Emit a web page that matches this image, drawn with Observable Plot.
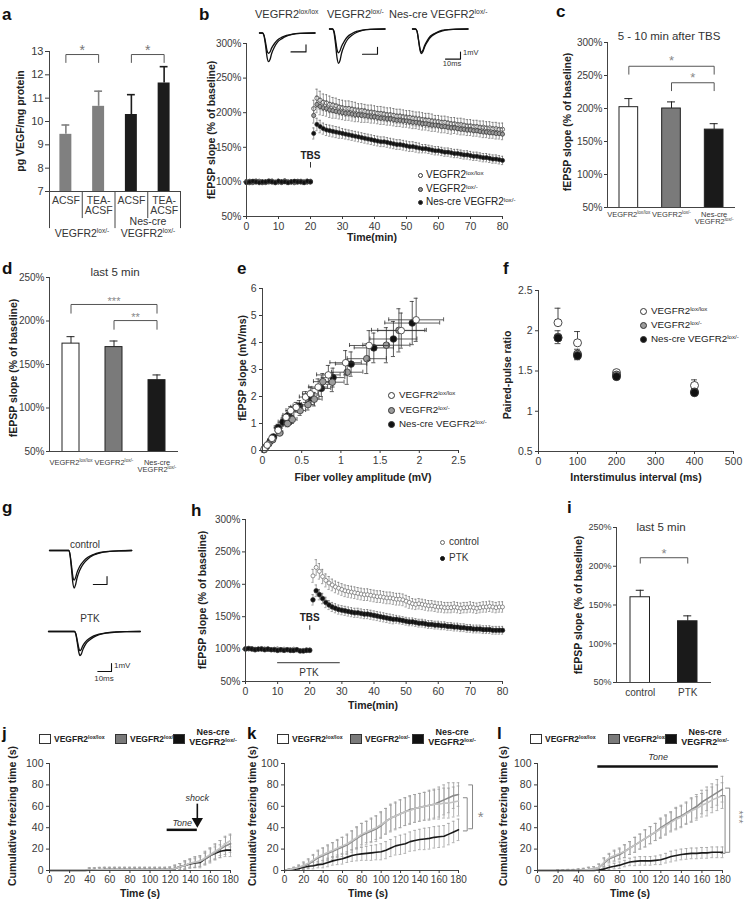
<!DOCTYPE html>
<html>
<head>
<meta charset="utf-8">
<script src="https://cdn.jsdelivr.net/npm/d3@7"></script>
<script src="https://cdn.jsdelivr.net/npm/@observablehq/plot@0.6"></script>
<style>
  html, body { margin: 0; padding: 0; background: #fff; }
  #fig { position: relative; width: 744px; height: 900px; overflow: hidden; font-family: 'Liberation Sans', Arial, Helvetica, sans-serif; color: #222; }
  .t { position: absolute; white-space: nowrap; line-height: 1; }
  .t sup { font-size: 0.62em; vertical-align: 0; position: relative; top: -0.55em; }
</style>
</head>
<body>
<div id="fig"></div>
<script>
// ======================= DATA =======================
// --- a
const aConditions = ["ACSF", "TEA-\nACSF", "ACSF", "TEA-\nACSF"];
const aGenotypes = ["VEGFR2^lox/-", "Nes-cre\nVEGFR2^lox/-"];
const aValues = [9.45, 10.65, 10.3, 11.65];
const aErrors = [0.4, 0.65, 0.85, 0.7];
const aColors = ["#808080", "#808080", "#1c1c1c", "#1c1c1c"];
const aTicks = [7, 8, 9, 10, 11, 12, 13];
const aSig = [{from: 0, to: 1, y: 12.87, label: "*"}, {from: 2, to: 3, y: 12.87, label: "*"}];
const aTable = {condBottom: 5.84, groupBottom: 5.41};

// --- shared labels / styles
const genotypes = ["VEGFR2^lox/lox", "VEGFR2^lox/-", "Nes-cre VEGFR2^lox/-"];
const barGenotypeLabels = ["VEGFR2^lox/lox", "VEGFR2^lox/-", "Nes-cre\nVEGFR2^lox/-"];
const dotFills = ["#ffffff", "#9c9c9c", "#111111"];
const barFills = ["#ffffff", "#7a7a7a", "#1a1a1a"];
const pctTicks300 = [50, 100, 150, 200, 250, 300];
const pctTicks250 = [50, 100, 150, 200, 250];
const minuteTicks = [0, 10, 20, 30, 40, 50, 60, 70, 80];

// --- b (LTP time course)
const minutes = [0,1,2,3,4,5,6,7,8,9,10,11,12,13,14,15,16,17,18,19,20,21,22,23,24,25,26,27,28,29,30,31,32,33,34,35,36,37,38,39,40,41,42,43,44,45,46,47,48,49,50,51,52,53,54,55,56,57,58,59,60,61,62,63,64,65,66,67,68,69,70,71,72,73,74,75,76,77,78,79,80];
const bLoxLox = [100,101,99,100,101,100,99,100,101,100,100,99,101,100,100,99,100,101,100,100,101,
  206,221,218,215,214,212,211,210,208,207, 206,206,205,204,203,203,202,201,201,200,
  199,199,198,197,197,196,195,195,194,193, 193,192,191,191,190,189,189,188,187,187,
  186,186,185,184,184,183,183,182,181,181, 180,180,179,179,178,178,177,177,176,176];
const bLoxLoxErr = [3,2,3,3,2,3,2,3,3,2,3,2,3,3,2,3,3,2,3,3,2,
  12,13,13,12,12,12,11,11,11,11, 11,11,11,11,10,10,10,10,10,10,
  10,10,10,10,10,10,10,10,10,10, 10,10,10,10,10,10,10,10,9,9,
  9,9,9,9,9,9,9,9,9,9, 9,9,9,9,9,9,9,9,9,9];
const bLoxMinus = [100,99,100,101,100,99,100,101,100,99,100,100,101,99,100,100,101,100,99,100,100,
  196,212,209,207,206,204,203,202,201,200, 199,199,198,197,197,196,196,195,194,194,
  193,192,192,191,191,190,189,189,188,188, 187,186,186,185,184,184,183,182,182,181,
  180,180,179,178,178,177,176,176,175,175, 174,174,173,172,172,171,171,170,170,169];
const bLoxMinusErr = [3,3,2,3,2,3,3,2,3,3,2,3,3,2,3,3,2,3,3,2,3,
  11,12,12,11,11,11,11,10,10,10, 10,10,10,10,10,10,10,9,9,9,
  9,9,9,9,9,9,9,9,9,9, 9,9,9,9,9,9,9,9,9,9,
  9,9,9,9,8,8,8,8,8,8, 8,8,8,8,8,8,8,8,8,8];
const bNesCre = [99,100,101,100,99,100,100,101,100,99,101,100,100,99,100,101,100,100,99,101,100,
  170,183,180,177,175,174,173,172,171,170, 169,168,167,166,165,164,163,162,161,160,
  159,158,158,157,156,155,154,154,153,152, 151,151,150,149,148,148,147,146,145,145,
  144,143,143,142,141,141,140,139,139,138, 137,137,136,135,135,134,133,133,132,131];
const bNesCreErr = [2,3,2,2,3,2,2,3,2,2,3,2,2,3,2,2,3,2,2,3,2,
  8,9,9,8,8,8,8,8,8,7, 7,7,7,7,7,7,7,7,7,7,
  7,7,7,7,7,7,7,7,7,7, 7,7,7,7,6,6,6,6,6,6,
  6,6,6,6,6,6,6,6,6,6, 6,6,6,6,6,6,6,6,6,6];
const bTbs = {t: 20, y: 137, tick: [120, 128], label: "TBS"};

// --- b insets (example fEPSP traces, ms / mV)
const bTraceMs = [0, 2, 3, 4, 5, 6, 7, 8, 10, 12, 15, 18, 22, 27, 37];
const bTraceLoxLoxBase = [0, 0, -0.3, -1.3, -2.5, -2.9, -2.7, -2.2, -1.5, -1.0, -0.6, -0.35, -0.15, -0.05, 0];
const bTraceLoxLoxPost = [0, 0, -0.4, -1.7, -3.4, -4.1, -3.8, -3.0, -2.0, -1.3, -0.8, -0.45, -0.2, -0.06, 0];
const bTraceLoxMinusBase = [0, 0, -0.3, -1.5, -2.9, -3.4, -3.1, -2.5, -1.7, -1.1, -0.65, -0.35, -0.15, -0.05, 0];
const bTraceLoxMinusPost = [0, 0, -0.5, -2.1, -4.1, -4.9, -4.5, -3.5, -2.3, -1.5, -0.9, -0.5, -0.2, -0.06, 0];
const bTraceNesBase = [0, 0, -0.3, -1.5, -2.8, -3.3, -3.0, -2.4, -1.6, -1.0, -0.6, -0.3, -0.12, -0.04, 0];
const bTraceNesPost = [0, 0, -0.3, -1.6, -3.0, -3.5, -3.2, -2.6, -1.8, -1.2, -0.7, -0.4, -0.15, -0.05, 0];
const bScaleBars = [[21, -2.7], [22, -3.6], [22, -4.3]];

// --- c
const cValues = [202, 200, 168];
const cErrors = [13, 10, 9];
const cSig = [{from: 0, to: 2, y: 264, label: "*"}, {from: 1, to: 2, y: 239, label: "*"}];

// --- d
const dValues = [174, 170, 132];
const dErrors = [8, 7, 6];
const dSig = [{from: 0, to: 2, y: 219, label: "***"}, {from: 1, to: 2, y: 200.5, label: "**"}];

// --- e (input-output)
const eTicksX = [0, 0.5, 1, 1.5, 2, 2.5];
const eTicksY = [0, 1, 2, 3, 4, 5, 6];
const eLoxLoxX = [0.02, 0.06, 0.12, 0.2, 0.3, 0.36, 0.43, 0.55, 0.61, 0.71, 0.84, 1.06, 1.36, 1.77, 1.96];
const eLoxLoxY = [0.05, 0.2, 0.45, 0.75, 1.23, 1.48, 1.6, 1.98, 2.1, 2.35, 2.8, 3.25, 3.89, 4.44, 4.84];
const eLoxMinusX = [0.03, 0.08, 0.13, 0.22, 0.32, 0.38, 0.48, 0.58, 0.66, 0.77, 0.89, 1.08, 1.33, 1.58, 1.74];
const eLoxMinusY = [0.08, 0.25, 0.4, 0.65, 1.0, 1.15, 1.48, 1.7, 1.9, 2.55, 2.53, 2.9, 3.4, 3.9, 4.45];
const eNesX = [0.02, 0.05, 0.1, 0.14, 0.2, 0.26, 0.33, 0.47, 0.62, 0.75, 0.9, 1.13, 1.42, 1.67, 1.91];
const eNesY = [0.03, 0.15, 0.35, 0.5, 0.85, 1.05, 1.3, 1.65, 1.95, 2.3, 2.7, 3.2, 3.8, 4.13, 4.72];
const eErrX = [0.01, 0.02, 0.03, 0.04, 0.05, 0.06, 0.07, 0.08, 0.1, 0.12, 0.15, 0.2, 0.25, 0.3, 0.35];
const eErrY = [0.02, 0.05, 0.08, 0.1, 0.12, 0.15, 0.18, 0.2, 0.25, 0.3, 0.35, 0.45, 0.55, 0.65, 0.8];

// --- f (paired-pulse)
const fIntervals = [50, 100, 200, 400];
const fTicksX = [0, 100, 200, 300, 400, 500];
const fTicksY = [0.5, 1, 1.5, 2, 2.5];
const fLoxLox = [2.10, 1.85, 1.48, 1.32];
const fLoxLoxErr = [0.18, 0.14, 0.02, 0.07];
const fLoxMinus = [1.92, 1.71, 1.45, 1.24];
const fLoxMinusErr = [0.08, 0.06, 0.03, 0.04];
const fNes = [1.91, 1.69, 1.43, 1.23];
const fNesErr = [0.07, 0.05, 0.03, 0.03];

// --- g traces
const gControlMs = [0, 14, 15, 16, 17, 18, 19, 20, 22, 25, 28, 32, 37, 44, 52, 60];
const gControlBase = [0, 0, -0.5, -1.8, -3.2, -3.7, -3.4, -2.8, -2.0, -1.3, -0.85, -0.5, -0.25, -0.1, -0.03, 0];
const gControlPost = [0, 0, -0.6, -2.2, -4.0, -4.7, -4.3, -3.5, -2.5, -1.6, -1.05, -0.6, -0.3, -0.12, -0.04, 0];
const gPtkMs = [0, 19, 20, 21, 22, 23, 24, 25, 27, 30, 33, 37, 42, 49, 57, 67];
const gPtkBase = [0, 0, -0.3, -1.1, -2.0, -2.4, -2.2, -1.8, -1.3, -0.85, -0.55, -0.32, -0.16, -0.06, -0.02, 0];
const gPtkPost = [0, 0, -0.4, -1.4, -2.5, -3.0, -2.8, -2.3, -1.6, -1.05, -0.7, -0.4, -0.2, -0.08, -0.02, 0];
const gScaleBars = [[32, -4.25], [36, -5]];

// --- h (PTK)
const hLabels = ["control", "PTK"];
const hControl = [101,100,101,100,100,101,100,100,99,100,100,99,100,99,99,100,99,98,98,99,99,
  213,226,220,212,206,202,199,196,194,192, 190,189,188,187,186,185,184,184,183,182,
  181,181,180,179,179,178,177,177,176,174, 172,170,169,170,169,168,167,167,166,165,
  165,164,164,164,165,164,163,164,164,165, 164,163,164,165,165,166,165,164,165,165];
const hControlErr = [2,2,3,2,2,2,3,2,2,2,3,2,2,2,3,2,2,2,3,2,2,
  10,12,12,11,10,10,9,9,9,9, 9,9,9,9,9,9,9,9,9,9,
  9,9,9,9,9,9,9,9,9,9, 9,8,8,8,8,8,8,8,8,8,
  8,8,8,8,8,8,8,8,8,8, 8,8,8,8,8,8,8,8,8,8];
const hPtk = [100,101,100,99,100,100,99,100,99,99,98,99,98,99,98,98,99,97,97,98,98,
  176,190,184,178,172,168,165,163,161,160, 159,158,157,156,156,155,154,154,153,152,
  151,150,149,148,147,146,146,145,144,143, 142,142,141,140,140,139,138,138,137,137,
  136,136,135,135,134,134,133,133,132,132, 131,131,131,130,130,130,129,129,129,129];
const hPtkErr = [2,2,2,3,2,2,2,3,2,2,2,3,2,2,2,3,2,2,2,3,2,
  8,9,8,8,8,7,7,7,7,7, 7,7,7,7,7,7,7,7,7,7,
  7,7,7,7,7,7,6,6,6,6, 6,6,6,6,6,6,6,6,6,6,
  6,6,6,6,6,6,6,6,6,6, 6,6,6,6,6,6,6,6,6,6];
const hTbs = {t: 20, y: 149, tick: [129, 136], label: "TBS"};
const hPtkBar = {from: 10, to: 29.5, y: 79, labelY: 64, label: "PTK"};

// --- i
const iValues = [160, 129];
const iErrors = [9, 7];
const iSig = [{from: 0, to: 1, y: 211, label: "*"}];

// --- j, k, l (fear conditioning)
const seconds = [0,5,10,15,20,25,30,35,40,45,50,55,60,65,70,75,80,85,90,95,100,105,110,115,120,125,130,135,140,145,150,155,160,165,170,175,180];
const secondTicks = [0, 20, 40, 60, 80, 100, 120, 140, 160, 180];
const freezeTicks = [0, 20, 40, 60, 80, 100];
const lineColors = ["#c4c4c4", "#8a8a8a", "#1a1a1a"];
const boxFills = ["#ffffff", "#7a7a7a", "#111111"];

const jLoxLox = [0,0,0,0,0,0,0,0,0.5,0.5,1,1,1,1,1,1,1,1,1,1,1,1,1,1,1.2,2,3.5,5,7,8,9,12,15,18,21,25,28];
const jLoxLoxErr = [0,0,0,0,0,0,0,0,2,2,2,2,2,2,2,2,2,2,2,2,2,2,2,2,2,3,3,4,4,5,5,6,6,7,7,7,6];
const jLoxMinus = [0,0,0,0,0,0,0,0,0.5,0.5,0.8,1,1,1,1,1,1,1,1,1,1,1,1,1,1.2,2,3.5,5,6.5,7.5,8.5,11,14,17,20,23,25];
const jLoxMinusErr = [0,0,0,0,0,0,0,0,2,2,2,2,2,2,2,2,2,2,2,2,2,2,2,2,2,3,3,4,4,5,5,6,7,7,8,8,8];
const jNes = [0,0,0,0,0,0,0,0,0.3,0.5,0.5,0.8,0.8,0.8,0.8,0.8,0.8,0.8,0.8,0.8,0.8,0.8,0.8,0.8,1,2,3.5,5,6,7,7.5,11,14,16,18,19,19];
const jNesErr = [0,0,0,0,0,0,0,0,1.5,1.5,1.5,1.5,1.5,1.5,1.5,1.5,1.5,1.5,1.5,1.5,1.5,1.5,1.5,1.5,2,2,3,3,4,4,5,5,6,6,6,6,6];
const jTone = {from: 117, to: 147, y: 38, labelY: 44, label: "Tone"};
const jShock = {t: 147, from: 62, to: 48, head: 46, labelY: 68, label: "shock"};

const kLoxLox = [0,1,2,3,5,7,10,13,15,17,19,21,23,25,28,31,34,36,38,40,43,46,49,51,53,55,56,58,59,60,61,62,62,63,63,64,65];
const kLoxLoxErr = [0,0.5,1,2,3,4,5,6,6,7,7,8,8,9,9,10,10,10,11,11,12,12,12,12,13,13,13,13,13,13,13,13,14,14,14,14,14];
const kLoxMinus = [0,1,2,3,4,6,9,12,14,16,18,20,22,24,27,30,33,35,37,39,42,46,49,51,53,55,57,58,59,60,61,62,64,66,68,70,71];
const kLoxMinusErr = [0,0.5,1,2,3,4,5,6,7,7,8,8,9,9,10,10,11,11,11,12,12,12,13,13,13,13,13,13,13,13,14,14,14,14,14,12,11];
const kNes = [0,0.5,1,2,3,4,4.5,5.5,6,7.5,9,10,11,12.5,14,15,15.5,16,16.5,17,17.5,19,21,23,24,25,27,28,29,29.5,30,31,31.5,32,34,36,38];
const kNesErr = [0,0.5,1,1.5,2,2.5,3,3,3.5,4,4,4.5,5,5,5.5,6,6,6.5,7,7,7.5,8,8,8.5,9,9,9,9.5,9.5,10,10,10,10,10,10,10,10];
const kSig = [{x: 194.5, y1: 80, y2: 39}, {x: 189, y1: 68, y2: 37}];
const kStar = {x: 203, y: 53, label: "*"};

const lLoxLox = [0,0,0,0,0,0,0,0,0,0.5,1,1.5,3,8,12,14,16,18,21,24,27,30,33,36,39,42,45,48,50,53,56,58,61,63,66,68,70];
const lLoxLoxErr = [0,0,0,0,0.5,0.5,1,1,1.5,1.5,2,2,3,4,4,5,5,6,6,7,7,8,8,8,9,9,9,10,10,10,11,11,11,12,12,12,12];
const lLoxMinus = [0,0,0,0,0,0,0,0,0,0.5,1,1.5,3,7,11,13,15,18,21,24,27,30,33,36,40,43,46,49,51,54,57,60,64,67,70,73,76];
const lLoxMinusErr = [0,0,0,0,0.5,0.5,1,1,1.5,1.5,2,2,3,4,4,5,5,6,6,7,7,8,8,8,9,9,9,10,10,10,11,11,11,11,11,12,12];
const lNes = [0,0,0,0,0,0,0,0,0,0,0,0,0.5,1.5,3,4,5,6.5,8,8.5,9,9,9,9.5,10,11.5,13,14,15,15.5,16,16,16.5,16.5,17,17,17];
const lNesErr = [0,0,0,0,0.5,0.5,0.5,0.5,0.5,0.5,1,1,1,2,2,2.5,3,3,3.5,4,4,4,4,4,4.5,4.5,5,5,5,5,5,5,5,5,5,5,5];
const lTone = {from: 58.7, to: 176, y: 97.2, labelY: 105.6, label: "Tone"};
const lSig = [{x: 187, y1: 77, y2: 17}, {x: 182.5, y1: 70, y2: 16}];
const lStar = {x: 196, y: 50, label: "***"};

// ======================= HELPERS =======================
const FONT = "'Liberation Sans', Arial, Helvetica, sans-serif";
const fig = document.getElementById("fig");
const AX = "#444";
const num = d => String(d);

function sup(s) { return s.replace(/\^([^\n]*)/g, "<sup>$1</sup>").replace(/\n/g, "<br>"); }

function supify(svg) {
  const nodes = [];
  const w = document.createTreeWalker(svg, NodeFilter.SHOW_TEXT);
  while (w.nextNode()) if (w.currentNode.nodeValue.includes("^")) nodes.push(w.currentNode);
  for (const n of nodes) {
    const [a, b] = n.nodeValue.split("^");
    const t = document.createElementNS("http://www.w3.org/2000/svg", "tspan");
    t.setAttribute("dy", "-0.7em");
    t.setAttribute("font-size", "0.62em");
    t.textContent = b;
    n.nodeValue = a;
    n.parentNode.insertBefore(t, n.nextSibling);
  }
}

function label(html, x, y, o = {}) {
  const d = document.createElement("div");
  d.className = "t";
  d.innerHTML = html;
  d.style.left = x + "px";
  d.style.top = y + "px";
  const tf = {c: "translate(-50%,-50%)", l: "translate(0,-50%)", r: "translate(-100%,-50%)", v: "translate(-50%,-50%) rotate(-90deg)"};
  d.style.transform = tf[o.mode || "c"];
  if (o.size) d.style.fontSize = o.size + "px";
  if (o.weight) d.style.fontWeight = o.weight;
  if (o.color) d.style.color = o.color;
  if (o.italic) d.style.fontStyle = "italic";
  if (o.lh) { d.style.lineHeight = o.lh; d.style.textAlign = "center"; }
  fig.appendChild(d);
  return d;
}
const letter = (s, x, y) => label(s, x, y, {mode: "l", size: 17, weight: "bold", color: "#111"});
const axTitle = (s, x, y, rot) => label(s, x, y, {mode: rot ? "v" : "c", size: 10.5, weight: "bold", color: "#222"});

function plotAt(fx0, fx1, fy0, fy1, opts, m = {}) {
  const ml = m.l ?? 34, mr = m.r ?? 12, mt = m.t ?? 14, mb = m.b ?? 24;
  const svg = Plot.plot({
    width: fx1 - fx0 + ml + mr,
    height: fy1 - fy0 + mt + mb,
    marginLeft: ml, marginRight: mr, marginTop: mt, marginBottom: mb,
    style: {background: "transparent", overflow: "visible", fontFamily: FONT, fontSize: "10px", color: "#3a3a3a"},
    ...opts
  });
  svg.style.position = "absolute";
  svg.style.left = (fx0 - ml) + "px";
  svg.style.top = (fy0 - mt) + "px";
  svg.style.maxWidth = "none";
  supify(svg);
  fig.appendChild(svg);
  return svg;
}

function circleLegend(cx, ys, d, tx, size) {
  genotypes.slice(0, ys.length).forEach((g, i) => {
    const c = document.createElement("div");
    c.style.cssText = `position:absolute;left:${cx - d / 2}px;top:${ys[i] - d / 2}px;width:${d}px;height:${d}px;border-radius:50%;box-sizing:border-box;border:1px solid #333;background:${dotFills[i]}`;
    fig.appendChild(c);
    label(sup(g), tx, ys[i], {mode: "l", size});
  });
}

function boxLegend(xs, y) {
  barGenotypeLabels.forEach((g, i) => {
    const b = document.createElement("div");
    b.style.cssText = `position:absolute;left:${xs[i]}px;top:${y - 5}px;width:12px;height:10px;box-sizing:border-box;border:1px solid #333;background:${boxFills[i]}`;
    fig.appendChild(b);
    if (i < 2) label(sup(g), xs[i] + 15, y, {mode: "l", size: 8.5, weight: "bold"});
    else label(sup(g), xs[i] + 40, y - 1, {mode: "c", size: 9, weight: "bold", lh: 1.1});
  });
}

function bracketRows(sig, leg) {
  return sig.flatMap((s, k) => [
    {x: s.from + 0.5, y: s.y - leg, k}, {x: s.from + 0.5, y: s.y, k},
    {x: s.to + 0.5, y: s.y, k}, {x: s.to + 0.5, y: s.y - leg, k}]);
}

function barPanel(o) {
  const idx = o.values.map((_, i) => i);
  const capHalf = 4 / o.step;
  plotAt(o.fx0, o.fx1, o.fy0, o.fy1, {
    x: {domain: [0, o.values.length]},
    y: {domain: o.yDomain},
    color: {type: "identity"},
    marks: [
      Plot.rectY(idx, {x1: i => i, x2: i => i + 1, y1: 0, y2: i => o.values[i], fill: i => o.fills[i], stroke: "#222", strokeWidth: 1, insetLeft: o.inset, insetRight: o.inset, clip: true}),
      Plot.ruleX(idx, {x: i => i + 0.5, y1: i => o.values[i], y2: i => o.values[i] + o.errors[i], stroke: "#222", strokeWidth: 1}),
      Plot.ruleY(idx, {y: i => o.values[i] + o.errors[i], x1: i => i + 0.5 - capHalf, x2: i => i + 0.5 + capHalf, stroke: "#222", strokeWidth: 1}),
      Plot.ruleY([o.yDomain[0]], {stroke: AX}),
      Plot.ruleX([0], {stroke: AX}),
      Plot.axisY({ticks: o.yTicks, tickFormat: d => d + "%", tickSize: 3, tickPadding: 2, fontSize: o.yFont || 10, label: null}),
      Plot.axisX({ticks: idx.map(i => i + 0.5), tickFormat: v => o.labels[Math.floor(v)], tickSize: 0, tickPadding: o.labelPad, fontSize: o.labelSize, label: null}),
      Plot.line(bracketRows(o.sig, o.leg), {x: "x", y: "y", z: "k", stroke: "#555", strokeWidth: 1}),
      Plot.text(o.sig, {x: s => (s.from + s.to) / 2 + 0.5, y: "y", text: "label", dy: o.starDy, fontSize: o.starSize, fill: "#888"})
    ]
  }, {l: 36, r: 10, t: 14, b: 30});
}

function timeSeriesMarks(series, cap, r, errStroke) {
  const marks = [];
  for (const s of series) {
    const rows = minutes.map((t, i) => ({t, v: s.values[i], e: s.errors[i]}));
    marks.push(
      Plot.ruleX(rows, {x: "t", y1: d => d.v - d.e, y2: d => d.v + d.e, stroke: errStroke, strokeWidth: 0.6}),
      Plot.ruleY(rows, {y: d => d.v + d.e, x1: d => d.t - cap, x2: d => d.t + cap, stroke: errStroke, strokeWidth: 0.6}),
      Plot.ruleY(rows, {y: d => d.v - d.e, x1: d => d.t - cap, x2: d => d.t + cap, stroke: errStroke, strokeWidth: 0.6}),
      Plot.dot(rows, {x: "t", y: "v", r: s.r || r, fill: s.fill, stroke: s.stroke || "#333", strokeWidth: 0.7})
    );
  }
  return marks;
}

function tracePlot(x0, yBase, times, curves, barStart, pxMs, pxMv) {
  const maxT = times[times.length - 1];
  const yMin = -6, yMax = 0.5;
  const rows = curves.flatMap((c, k) => times.map((t, i) => ({t, v: c[i], k})));
  const bar = [[barStart[0], barStart[1]], [barStart[0] + 10, barStart[1]], [barStart[0] + 10, barStart[1] + 1]];
  plotAt(x0, x0 + maxT * pxMs, yBase - yMax * pxMv, yBase - yMin * pxMv, {
    x: {domain: [0, maxT], axis: null},
    y: {domain: [yMin, yMax], axis: null},
    marks: [
      Plot.line(rows, {x: "t", y: "v", z: "k", curve: "monotone-x", stroke: "#111", strokeWidth: 1.3}),
      Plot.line(bar, {x: d => d[0], y: d => d[1], stroke: "#111", strokeWidth: 1.1})
    ]
  }, {l: 2, r: 30, t: 2, b: 4});
}

function freezingPanel(fx0, fx1, series, extra) {
  const marks = [];
  for (const s of series) {
    const rows = seconds.map((t, i) => ({t, v: s.values[i], e: s.errors[i]})).filter(d => d.e > 0);
    marks.push(
      Plot.ruleX(rows, {x: "t", y1: d => Math.max(0, d.v - d.e), y2: d => d.v + d.e, stroke: "#a0a0a0", strokeWidth: 0.8}),
      Plot.ruleY(rows, {y: d => d.v + d.e, x1: d => d.t - 1.4, x2: d => d.t + 1.4, stroke: "#a0a0a0", strokeWidth: 0.8}),
      Plot.ruleY(rows.filter(d => d.v - d.e > 0), {y: d => d.v - d.e, x1: d => d.t - 1.4, x2: d => d.t + 1.4, stroke: "#a0a0a0", strokeWidth: 0.8})
    );
  }
  for (const s of series) {
    marks.push(Plot.line(seconds.map((t, i) => ({t, v: s.values[i]})), {x: "t", y: "v", stroke: s.color, strokeWidth: 1.6}));
  }
  plotAt(fx0, fx1, 763, 870, {
    x: {domain: [0, 180]},
    y: {domain: [0, 100]},
    marks: [
      ...marks,
      Plot.ruleX([0], {stroke: AX}),
      Plot.ruleY([0], {stroke: AX}),
      Plot.axisY({ticks: freezeTicks, tickSize: 3, tickPadding: 3, fontSize: 10.5, label: null}),
      Plot.axisX({ticks: secondTicks, tickSize: 3, tickPadding: 2, fontSize: 10, label: null}),
      ...extra
    ]
  }, {l: 34, r: 30, t: 10, b: 22});
}

// ======================= PANEL a =======================
{
  const idx = aValues.map((_, i) => i);
  plotAt(49, 180, 51, 191, {
    x: {domain: [0, aValues.length]},
    y: {domain: [7, 13]},
    color: {type: "identity"},
    marks: [
      Plot.rectY(idx, {x1: i => i, x2: i => i + 1, y1: 0, y2: i => aValues[i], fill: i => aColors[i], insetLeft: 10.4, insetRight: 10.4, clip: true}),
      Plot.ruleX(idx, {x: i => i + 0.5, y1: i => aValues[i], y2: i => aValues[i] + aErrors[i], stroke: i => aColors[i], strokeWidth: 1.6}),
      Plot.ruleY(idx, {y: i => aValues[i] + aErrors[i], x1: i => i + 0.38, x2: i => i + 0.62, stroke: i => aColors[i], strokeWidth: 1.6}),
      Plot.ruleY([7], {stroke: AX}),
      Plot.ruleX([0, 2, 4], {y1: aTable.groupBottom, y2: d => d === 0 ? 13 : 7, stroke: AX}),
      Plot.ruleX([1, 3], {y1: aTable.condBottom, y2: 7, stroke: AX}),
      Plot.axisY({ticks: aTicks, tickFormat: num, tickSize: 4, tickPadding: 2, fontSize: 11, label: null}),
      Plot.axisX({ticks: idx.map(i => i + 0.5), tickFormat: v => aConditions[Math.floor(v)], tickSize: 0, tickPadding: 5, fontSize: 10.5, label: null}),
      Plot.line(bracketRows(aSig, 0.34), {x: "x", y: "y", z: "k", stroke: "#555", strokeWidth: 1}),
      Plot.text(aSig, {x: s => (s.from + s.to) / 2 + 0.5, y: "y", text: "label", dy: -4, fontSize: 14, fill: "#777"})
    ]
  }, {l: 34, r: 14, t: 20, b: 46});
  label(sup(aGenotypes[0]), 82, 233, {size: 10.5, color: "#333"});
  label(sup(aGenotypes[1]), 148, 227, {size: 10.5, color: "#333", lh: 1.15});
  axTitle("pg VEGF/mg protein", 20, 121, true);
  letter("a", 2, 14);
}

// ======================= PANEL b =======================
{
  const series = [
    {values: bLoxLox, errors: bLoxLoxErr, fill: dotFills[0]},
    {values: bLoxMinus, errors: bLoxMinusErr, fill: dotFills[1]},
    {values: bNesCre, errors: bNesCreErr, fill: dotFills[2]}
  ];
  plotAt(246, 502, 43, 216, {
    x: {domain: [0, 80]},
    y: {domain: [50, 300]},
    marks: [
      ...timeSeriesMarks(series, 0.35, 2.1, "#555"),
      Plot.ruleX([0], {stroke: AX}),
      Plot.ruleY([50], {stroke: AX}),
      Plot.axisY({ticks: pctTicks300, tickFormat: d => d + "%", tickSize: 3, tickPadding: 2, fontSize: 10, label: null}),
      Plot.axisX({ticks: minuteTicks, tickSize: 3, tickPadding: 3, fontSize: 10.5, label: null}),
      Plot.ruleX([bTbs], {x: "t", y1: d => d.tick[0], y2: d => d.tick[1], stroke: "#333"}),
      Plot.text([bTbs], {x: "t", y: "y", text: "label", fontWeight: "bold", fontSize: 10, fill: "#222"})
    ]
  }, {l: 36, r: 12, t: 10, b: 22});
  tracePlot(259, 32, bTraceMs, [bTraceLoxLoxBase, bTraceLoxLoxPost], bScaleBars[0], 1.5, 7);
  tracePlot(329, 28, bTraceMs, [bTraceLoxMinusBase, bTraceLoxMinusPost], bScaleBars[1], 1.5, 7);
  tracePlot(412, 28, bTraceMs, [bTraceNesBase, bTraceNesPost], bScaleBars[2], 1.5, 7);
  label(sup(genotypes[0]), 255, 14, {mode: "l", size: 11, color: "#333"});
  label(sup(genotypes[1]), 327, 14, {mode: "l", size: 11, color: "#333"});
  label(sup(genotypes[2]), 389, 14, {mode: "l", size: 11, color: "#333"});
  label("1mV", 463, 53, {mode: "l", size: 7.5, color: "#333"});
  label("10ms", 452, 64, {size: 7.5, color: "#333"});
  circleLegend(420, [175, 189, 202], 5, 426, 10);
  axTitle("fEPSP slope (% of baseline)", 211, 130, true);
  axTitle("Time(min)", 372, 237);
  letter("b", 199, 14);
}

// ======================= PANEL c =======================
barPanel({fx0: 607, fx1: 735, fy0: 42, fy1: 207, step: 42.7, inset: 12, values: cValues, errors: cErrors, fills: barFills,
  labels: barGenotypeLabels, yDomain: [50, 300], yTicks: pctTicks300, sig: cSig, leg: 12, starDy: -5, starSize: 13,
  labelSize: 7.5, labelPad: 4});
label("5 - 10 min after TBS", 669, 37, {size: 11.5, color: "#333"});
axTitle("fEPSP slope (% of baseline)", 567, 122, true);
letter("c", 556, 11);

// ======================= PANEL d =======================
barPanel({fx0: 49, fx1: 178, fy0: 277, fy1: 451, step: 43, inset: 13, values: dValues, errors: dErrors, fills: barFills,
  labels: barGenotypeLabels, yDomain: [50, 250], yTicks: pctTicks250, sig: dSig, leg: 10, starDy: -3.5, starSize: 11,
  labelSize: 7.5, labelPad: 8});
label("last 5 min", 115, 273, {size: 11.5, color: "#333"});
axTitle("fEPSP slope (% of baseline)", 13, 368, true);
letter("d", 2, 268);

// ======================= PANEL e =======================
{
  const groups = [
    {x: eNesX, y: eNesY, fill: dotFills[2]},
    {x: eLoxMinusX, y: eLoxMinusY, fill: dotFills[1]},
    {x: eLoxLoxX, y: eLoxLoxY, fill: dotFills[0]}
  ];
  const marks = [];
  const cx = 0.026, cy = 0.074;
  for (const g of groups) {
    const rows = g.x.map((x, i) => ({x, y: g.y[i], ex: eErrX[i], ey: eErrY[i]}));
    marks.push(
      Plot.ruleY(rows, {y: "y", x1: d => d.x - d.ex, x2: d => d.x + d.ex, stroke: "#333", strokeWidth: 0.8}),
      Plot.ruleX(rows, {x: "x", y1: d => d.y - d.ey, y2: d => d.y + d.ey, stroke: "#333", strokeWidth: 0.8}),
      Plot.ruleX(rows, {x: d => d.x - d.ex, y1: d => d.y - cy, y2: d => d.y + cy, stroke: "#333", strokeWidth: 0.8}),
      Plot.ruleX(rows, {x: d => d.x + d.ex, y1: d => d.y - cy, y2: d => d.y + cy, stroke: "#333", strokeWidth: 0.8}),
      Plot.ruleY(rows, {y: d => d.y + d.ey, x1: d => d.x - cx, x2: d => d.x + cx, stroke: "#333", strokeWidth: 0.8}),
      Plot.ruleY(rows, {y: d => d.y - d.ey, x1: d => d.x - cx, x2: d => d.x + cx, stroke: "#333", strokeWidth: 0.8}),
      Plot.dot(rows, {x: "x", y: "y", r: 3.3, fill: g.fill, stroke: "#333", strokeWidth: 0.8})
    );
  }
  plotAt(262, 458, 288, 450, {
    x: {domain: [0, 2.5]},
    y: {domain: [0, 6]},
    marks: [
      ...marks,
      Plot.ruleX([0], {stroke: AX}),
      Plot.ruleY([0], {stroke: AX}),
      Plot.axisY({ticks: eTicksY, tickFormat: num, tickSize: 3, tickPadding: 3, fontSize: 10.5, label: null}),
      Plot.axisX({ticks: eTicksX, tickFormat: num, tickSize: 3, tickPadding: 3, fontSize: 10.5, label: null})
    ]
  }, {l: 30, r: 12, t: 10, b: 22});
  circleLegend(391, [395, 410, 424], 7, 399, 9.8);
  axTitle("fEPSP slope (mV/ms)", 242, 368, true);
  axTitle("Fiber volley amplitude (mV)", 363, 477);
  letter("e", 237, 268);
}

// ======================= PANEL f =======================
{
  const groups = [
    {v: fLoxLox, e: fLoxLoxErr, dir: 1, fill: dotFills[0]},
    {v: fLoxMinus, e: fLoxMinusErr, dir: 1, fill: dotFills[1]},
    {v: fNes, e: fNesErr, dir: -1, fill: dotFills[2]}
  ];
  const marks = [];
  for (const g of groups) {
    const rows = fIntervals.map((x, i) => ({x, y: g.v[i], tip: g.v[i] + g.dir * g.e[i]}));
    marks.push(
      Plot.ruleX(rows, {x: "x", y1: "y", y2: "tip", stroke: "#333", strokeWidth: 0.9}),
      Plot.ruleY(rows, {y: "tip", x1: d => d.x - 7.5, x2: d => d.x + 7.5, stroke: "#333", strokeWidth: 0.9}),
      Plot.dot(rows, {x: "x", y: "y", r: 4, fill: g.fill, stroke: "#333", strokeWidth: 0.9})
    );
  }
  plotAt(538, 733, 290, 451, {
    x: {domain: [0, 500]},
    y: {domain: [0.5, 2.5]},
    marks: [
      ...marks,
      Plot.ruleX([0], {stroke: AX}),
      Plot.ruleY([0.5], {stroke: AX}),
      Plot.axisY({ticks: fTicksY, tickFormat: num, tickSize: 3, tickPadding: 3, fontSize: 10.5, label: null}),
      Plot.axisX({ticks: fTicksX, tickSize: 3, tickPadding: 3, fontSize: 10.5, label: null})
    ]
  }, {l: 30, r: 12, t: 10, b: 22});
  circleLegend(643, [311, 325, 339], 7, 651, 9.8);
  axTitle("Paired-pulse ratio", 507, 375, true);
  axTitle("Interstimulus interval (ms)", 636, 477);
  letter("f", 503, 268);
}

// ======================= PANEL g =======================
tracePlot(49, 550, gControlMs, [gControlBase, gControlPost], gScaleBars[0], 1.37, 8);
tracePlot(48, 631, gPtkMs, [gPtkBase, gPtkPost], gScaleBars[1], 1.37, 8);
label(hLabels[0], 85, 545, {size: 10, color: "#333"});
label(hLabels[1], 90, 619, {size: 10, color: "#333"});
label("1mV", 114, 666, {mode: "l", size: 8, color: "#333"});
label("10ms", 104, 679, {size: 8, color: "#333"});
letter("g", 2, 507);

// ======================= PANEL h =======================
{
  const series = [
    {values: hControl, errors: hControlErr, fill: "#ffffff", stroke: "#666", r: 2},
    {values: hPtk, errors: hPtkErr, fill: "#111111", r: 2.3}
  ];
  plotAt(245, 502, 519, 681, {
    x: {domain: [0, 80]},
    y: {domain: [50, 300]},
    marks: [
      ...timeSeriesMarks(series, 0.35, 2.1, "#666"),
      Plot.ruleX([0], {stroke: AX}),
      Plot.ruleY([50], {stroke: AX}),
      Plot.axisY({ticks: pctTicks300, tickFormat: d => d + "%", tickSize: 3, tickPadding: 2, fontSize: 10, label: null}),
      Plot.axisX({ticks: minuteTicks, tickSize: 3, tickPadding: 3, fontSize: 10.5, label: null}),
      Plot.ruleX([hTbs], {x: "t", y1: d => d.tick[0], y2: d => d.tick[1], stroke: "#333"}),
      Plot.text([hTbs], {x: "t", y: "y", text: "label", fontWeight: "bold", fontSize: 10, fill: "#222"}),
      Plot.ruleY([hPtkBar], {y: "y", x1: "from", x2: "to", stroke: "#333", strokeWidth: 1}),
      Plot.text([hPtkBar], {x: d => (d.from + d.to) / 2, y: "labelY", text: "label", fontSize: 10, fill: "#333"})
    ]
  }, {l: 36, r: 12, t: 10, b: 22});
  [0, 1].forEach(i => {
    const c = document.createElement("div");
    c.style.cssText = `position:absolute;left:${442 - 2.5}px;top:${[542, 558][i] - 2.5}px;width:5px;height:5px;border-radius:50%;box-sizing:border-box;border:1px solid ${i ? "#111" : "#666"};background:${i ? "#111" : "#fff"}`;
    fig.appendChild(c);
    label(hLabels[i], 449, [542, 558][i], {mode: "l", size: 10, color: "#333"});
  });
  axTitle("fEPSP slope (% of baseline)", 202, 600, true);
  axTitle("Time(min)", 373, 705);
  letter("h", 191, 510);
}

// ======================= PANEL i =======================
barPanel({fx0: 616, fx1: 711, fy0: 527, fy1: 682, step: 47.5, inset: 14, values: iValues, errors: iErrors, fills: [barFills[0], barFills[2]],
  labels: hLabels, yDomain: [50, 250], yTicks: pctTicks250, sig: iSig, leg: 7, starDy: -4, starSize: 13,
  labelSize: 10, labelPad: 6, yFont: 9});
label("last 5 min", 661, 528, {size: 11.5, color: "#333"});
axTitle("fEPSP slope (% of baseline)", 578, 605, true);
letter("i", 567, 507);

// ======================= PANEL j =======================
freezingPanel(49, 230, [
  {values: jNes, errors: jNesErr, color: lineColors[2]},
  {values: jLoxMinus, errors: jLoxMinusErr, color: lineColors[1]},
  {values: jLoxLox, errors: jLoxLoxErr, color: lineColors[0]}
], [
  Plot.ruleY([jTone], {y: "y", x1: "from", x2: "to", stroke: "#111", strokeWidth: 2.5}),
  Plot.text([jTone], {x: d => (d.from + d.to) / 2, y: "labelY", text: "label", fontStyle: "italic", fontSize: 9, fill: "#333"}),
  Plot.ruleX([jShock], {x: "t", y1: "from", y2: "to", stroke: "#111", strokeWidth: 1.6}),
  Plot.dot([jShock], {x: "t", y: "head", symbol: "triangle", r: 4.2, fill: "#111", rotate: 180}),
  Plot.text([jShock], {x: "t", y: "labelY", text: "label", fontStyle: "italic", fontSize: 9, fill: "#333"})
]);
boxLegend([39, 115, 173], 739);
axTitle("Cumulative freezing time (s)", 12, 816, true);
axTitle("Time (s)", 140, 893);
letter("j", 2, 733);

// ======================= PANEL k =======================
freezingPanel(284, 458, [
  {values: kNes, errors: kNesErr, color: lineColors[2]},
  {values: kLoxMinus, errors: kLoxMinusErr, color: lineColors[1]},
  {values: kLoxLox, errors: kLoxLoxErr, color: lineColors[0]}
], [
  Plot.line(kSig.flatMap((s, k) => [{x: s.x - 4, y: s.y1, k}, {x: s.x, y: s.y1, k}, {x: s.x, y: s.y2, k}, {x: s.x - 4, y: s.y2, k}]), {x: "x", y: "y", z: "k", stroke: "#888", strokeWidth: 1}),
  Plot.text([kStar], {x: "x", y: "y", text: "label", fontSize: 15, fill: "#888", dy: 3})
]);
boxLegend([277, 350, 412], 739);
axTitle("Cumulative freezing time (s)", 252, 816, true);
axTitle("Time (s)", 368, 893);
letter("k", 247, 733);

// ======================= PANEL l =======================
freezingPanel(537, 722, [
  {values: lNes, errors: lNesErr, color: lineColors[2]},
  {values: lLoxMinus, errors: lLoxMinusErr, color: lineColors[1]},
  {values: lLoxLox, errors: lLoxLoxErr, color: lineColors[0]}
], [
  Plot.ruleY([lTone], {y: "y", x1: "from", x2: "to", stroke: "#111", strokeWidth: 2.5}),
  Plot.text([lTone], {x: d => (d.from + d.to) / 2, y: "labelY", text: "label", fontStyle: "italic", fontSize: 9, fill: "#333"}),
  Plot.line(lSig.flatMap((s, k) => [{x: s.x - 4, y: s.y1, k}, {x: s.x, y: s.y1, k}, {x: s.x, y: s.y2, k}, {x: s.x - 4, y: s.y2, k}]), {x: "x", y: "y", z: "k", stroke: "#888", strokeWidth: 1}),
  Plot.text([lStar], {x: "x", y: "y", text: "label", fontSize: 11, fill: "#888", rotate: 90})
]);
boxLegend([530, 608, 665], 739);
axTitle("Cumulative freezing time (s)", 503, 816, true);
axTitle("Time (s)", 630, 893);
letter("l", 497, 733);
</script>
</body>
</html>
